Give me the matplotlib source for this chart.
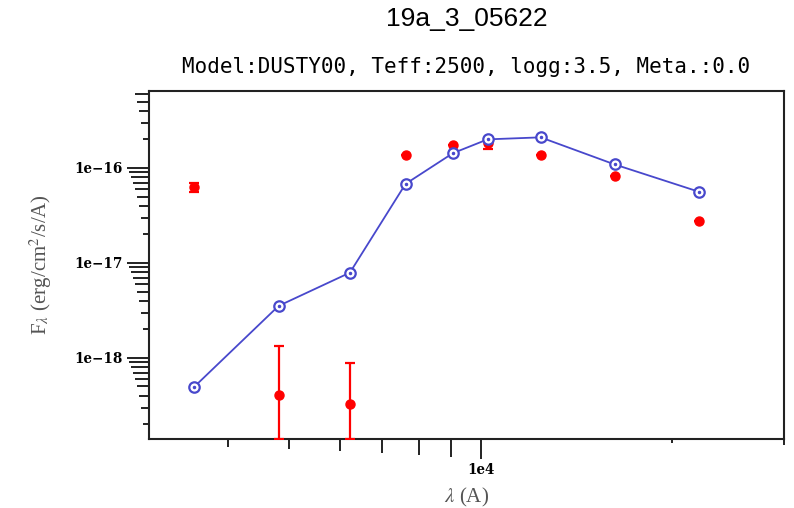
import numpy as np
import matplotlib
matplotlib.use("Agg")
import matplotlib.pyplot as plt
from matplotlib.ticker import LogLocator, FuncFormatter, NullFormatter

plt.rcParams["mathtext.fontset"] = "stix"

# datos
longitud_onda = [3549, 4813, 6230, 7620, 9045, 10257, 12430, 16240, 22020]
flujo_modelo = [4.99e-19, 3.53e-18, 7.9e-18, 6.79e-17, 1.43e-16, 2.0e-16, 2.10e-16, 1.09e-16, 5.63e-17]
flujo_obs = [6.3e-17, 4.08e-19, 3.26e-19, 1.36e-16, 1.75e-16, 1.81e-16, 1.36e-16, 8.18e-17, 2.79e-17]
error_obs = [7e-18, 9.3e-19, 5.5e-19, 0, 0, 2.2e-17, 0, 0, 0]

titulo = "19a_3_05622"
subtitulo = "Model:DUSTY00, Teff:2500, logg:3.5, Meta.:0.0"

x_lim = (3010, 30000)
y_lim = (1.40e-19, 6.46e-16)

fig = plt.figure(figsize=(7.94, 5.08), dpi=100)
ax = fig.add_axes([149 / 794, 1 - 439 / 508, 635 / 794, 348 / 508])
ax.set_xscale("log")
ax.set_yscale("log")
ax.set_xlim(*x_lim)
ax.set_ylim(*y_lim)

# barras de error: el extremo inferior se corta en el borde del grafico
val = np.array(flujo_obs)
err = np.array(error_obs)
err_bajo = np.minimum(err, val - y_lim[0] * 1.01)
ax.errorbar(longitud_onda, flujo_obs, yerr=[err_bajo, err], fmt="o", color="red",
            ms=6.5, mec="red", mfc="red", elinewidth=1.6, capsize=3.6, capthick=1.6, zorder=3)

ax.plot(longitud_onda, flujo_modelo, "-", color="#4848cc", lw=1.3, zorder=4)
ax.plot(longitud_onda, flujo_modelo, "o", ms=7.5, mfc="white", mec="#4848cc", mew=1.6, zorder=5)
ax.plot(longitud_onda, flujo_modelo, "o", ms=1.5, color="#4848cc", zorder=6)

for s in ax.spines.values():
    s.set_linewidth(1.5)
    s.set_color("#222222")

ax.xaxis.set_major_locator(LogLocator(base=10))
ax.xaxis.set_minor_locator(LogLocator(base=10, subs=np.arange(2, 10)))
ax.yaxis.set_major_locator(LogLocator(base=10))
ax.yaxis.set_minor_locator(LogLocator(base=10, subs=np.arange(2, 10), numticks=20))


def etiqueta(v, lim):
    # solo se rotulan las potencias dentro del rango visible
    if v < lim[0] or v > lim[1]:
        return ""
    return "1e" + str(int(round(np.log10(v)))).replace("-", "\u2212")


ax.xaxis.set_major_formatter(FuncFormatter(lambda v, p: etiqueta(v, x_lim)))
ax.yaxis.set_major_formatter(FuncFormatter(lambda v, p: etiqueta(v, y_lim)))
ax.xaxis.set_minor_formatter(NullFormatter())
ax.yaxis.set_minor_formatter(NullFormatter())

ax.tick_params(which="both", direction="out", width=1.4, color="#222222",
               top=False, right=False)
ax.tick_params(which="minor", labelleft=False, labelbottom=False)
ax.tick_params(axis="x", which="major", length=14.5, pad=3)
ax.tick_params(axis="y", which="major", length=16, pad=3)
for lab in ax.get_xticklabels() + ax.get_yticklabels():
    lab.set_fontfamily("DejaVu Serif")
    lab.set_fontweight("bold")
    lab.set_fontsize(9.8)

# largo de las marcas menores segun la mantisa
def ajustar_marcas(eje, base_px):
    locs = eje.get_minorticklocs()
    marcas = eje.get_minor_ticks(len(locs))
    for t, loc in zip(marcas, locs):
        m = loc / 10 ** np.floor(np.log10(loc) + 1e-9)
        t.tick1line.set_markersize((2 * m + base_px) * 0.72)

ajustar_marcas(ax.xaxis, 0)
ajustar_marcas(ax.yaxis, 2)

ax.set_xlabel(r"$\lambda$ (A)", fontfamily="Liberation Serif", fontsize=15,
              color="#555555")
ax.xaxis.set_label_coords(0.5, -0.135)
ax.set_ylabel(r"F$_\lambda$ (erg/cm$^2$/s/A)", fontfamily="Liberation Serif",
              fontsize=15, color="#555555")
ax.yaxis.set_label_coords(-0.15, 0.5)

cx = (149 + 784) / 2 / 794
fig.text(cx, 1 - 19 / 508, titulo, ha="center", va="center",
         fontfamily="Liberation Sans", fontsize=19)
fig.text(cx, 1 - 67 / 508, subtitulo, ha="center", va="center",
         fontfamily="DejaVu Sans Mono", fontsize=15)

fig.savefig("out.png", dpi=100)
